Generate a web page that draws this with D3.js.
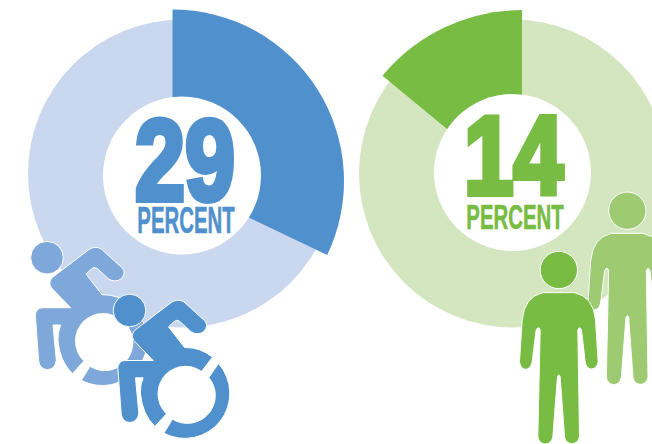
<!DOCTYPE html>
<html><head><meta charset="utf-8">
<script src="https://cdn.jsdelivr.net/npm/d3@7/dist/d3.min.js"></script>
<style>html,body{margin:0;padding:0;background:#fff;overflow:hidden}svg{display:block}
text{font-family:"Liberation Sans Narrow","Liberation Sans",sans-serif;font-weight:700}</style>
</head><body><svg id="c" width="652" height="444"></svg>
<script>
const categories = ["disability", "no disability"];
const percentValues = [29, 14];
const drawnSliceShare = [32.1, 14];
const unitLabel = "PERCENT";
const colors = ["#5091cd", "#78bc43"];
const paleColors = ["#cad8ef", "#d4e6bf"];
const iconBackColors = ["#7fa8da", "#9ecb72"];

const layout = [
  {bg:[182,173.5,154], hole:[182,175.5,79], wedge:[172.5,181,171.5], dir:1,
   num:[132,238,203,85], unit:[137,235,233,26]},
  {bg:[513,173.5,154], hole:[512.5,172.5,78.5], wedge:[522,191,181], dir:-1,
   num:[461,566,197,83], unit:[466,564,229,25]}
];
const svg = d3.select("#c");
const angle = d3.scaleLinear().domain([0,100]).range([0,2*Math.PI]);
const arc = d3.arc().innerRadius(0);

function fitText(g, str, box, fill, stroke){
  const [x0,x1,base,h] = box;
  const fs = (h-stroke)/0.69;
  g.append("text").text(str)
    .attr("x",x0+stroke/2).attr("y",base-stroke/2)
    .attr("font-size",fs)
    .attr("fill",fill).attr("stroke",fill).attr("stroke-width",stroke)
    .attr("textLength",x1-x0-stroke).attr("lengthAdjust","spacingAndGlyphs");
}

categories.forEach((c,i)=>{
  const L = layout[i];
  const g = svg.append("g").attr("class","donut "+c.replace(/ /g,"-"));
  g.append("circle").attr("cx",L.bg[0]).attr("cy",L.bg[1]).attr("r",L.bg[2]).attr("fill",paleColors[i]);
  const a = angle(drawnSliceShare[i])*L.dir;
  g.append("path")
   .attr("transform",`translate(${L.wedge[0]},${L.wedge[1]})`)
   .attr("d",arc({outerRadius:L.wedge[2],startAngle:Math.min(0,a),endAngle:Math.max(0,a)}))
   .attr("fill",colors[i]);
  g.append("circle").attr("cx",L.hole[0]).attr("cy",L.hole[1]).attr("r",L.hole[2]).attr("fill","#fff");
  fitText(g,String(percentValues[i]),L.num,colors[i],6);
  fitText(g,unitLabel,L.unit,colors[i],0.6);
});

/* pictograms, drawn in a 3x local coordinate space */
const chairBody = "M512,216 Q532,203 550,214 L612,270 Q626,285 610,303 Q592,316 572,304 L537,272 Q528,266 520,274 L504,289 L552,351 Q600,350 636,380 L607,418 L555,490 L497,551 L463,588 Q425,550 420,490 Q418,465 428,442 L405,442 L415,548 Q412,574 388,576 Q365,574 362,550 L352,412 Q354,392 372,390 L458,390 L400,330 Q390,315 402,300 Z";
const chairArc = "M654,399 A135,135 0 0 1 490,608 L516,566 A84,84 0 0 0 625,441 Z";
const personBody = "M130,338 L225,338 Q282,350 288,420 L296,545 Q292,566 276,567 Q260,566 257,545 L246,450 Q240,436 235,450 L240,770 Q236,790 218,791 Q198,790 195,770 L182,590 Q178,580 174,590 L160,770 Q156,791 137,792 Q118,790 115,770 L122,450 Q118,436 110,450 L98,545 Q94,567 78,568 Q62,566 60,545 L68,420 Q75,350 130,338 Z";

function chair(tx,ty,fill){
  const g = svg.append("g").attr("transform",`translate(${tx},${ty}) scale(${1/3})`);
  g.append("path").attr("d",chairBody).attr("fill",fill).attr("stroke","#fff").attr("stroke-width",3);
  g.append("circle").attr("cx",555).attr("cy",490).attr("r",84).attr("fill","#fff");
  g.append("path").attr("d",chairArc).attr("fill",fill).attr("stroke","#fff").attr("stroke-width",3);
  g.append("circle").attr("cx",387).attr("cy",240).attr("r",49).attr("fill",fill).attr("stroke","#fff").attr("stroke-width",3);
}
function person(tx,ty,fill){
  const g = svg.append("g").attr("transform",`translate(${tx},${ty}) scale(${1/3})`);
  g.append("path").attr("d",personBody).attr("fill",fill).attr("stroke","#fff").attr("stroke-width",3);
  g.append("circle").attr("cx",178).attr("cy",270).attr("r",56).attr("fill",fill).attr("stroke","#fff").attr("stroke-width",3);
}
chair(-82,177.7,iconBackColors[0]);
chair(0.5,230.5,colors[0]);
person(568,120.7,iconBackColors[1]);
person(499.5,180,colors[1]);
</script></body></html>
